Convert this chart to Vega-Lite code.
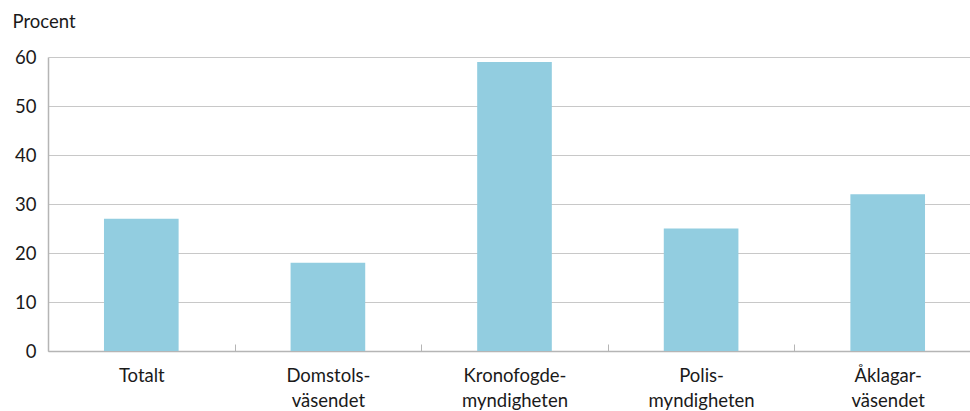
{
  "$schema": "https://vega.github.io/schema/vega-lite/v6.json",
  "autosize": "none",
  "width": 933,
  "height": 294,
  "padding": {"left": 48, "top": 57, "right": 0, "bottom": 60},
  "data": {
    "values": [
      {"kategori": "Totalt", "procent": 27},
      {"kategori": "Domstols-väsendet", "procent": 18},
      {"kategori": "Kronofogde-myndigheten", "procent": 59},
      {"kategori": "Polis-myndigheten", "procent": 25},
      {"kategori": "Åklagar-väsendet", "procent": 32}
    ]
  },
  "config": {
    "view": {"stroke": null},
    "font": "Lato",
    "axis": {"labelFont": "Lato", "titleFont": "Lato", "labelColor": "#1a1a1a", "titleColor": "#1a1a1a"}
  },
  "mark": {"type": "bar", "color": "#92cde0", "width": {"band": 0.4}},
  "encoding": {
    "x": {
      "field": "kategori",
      "type": "nominal",
      "sort": null,
      "scale": {"paddingInner": 0, "paddingOuter": 0},
      "axis": {
        "title": null,
        "labelAngle": 0,
        "labelFontSize": 18.5,
        "labelPadding": 22,
        "labelLineHeight": 25,
        "labelExpr": "indexof(datum.label,'-')>0 ? [slice(datum.label,0,indexof(datum.label,'-')+1), slice(datum.label,indexof(datum.label,'-')+1)] : datum.label",
        "tickBand": "extent",
        "tickSize": -7,
        "tickColor": "#b5b5b5",
        "domainColor": "#b5b5b5",
        "domainWidth": 1.5,
        "grid": false
      }
    },
    "y": {
      "field": "procent",
      "type": "quantitative",
      "scale": {"domain": [0, 60]},
      "axis": {
        "title": "Procent",
        "titleAngle": 0,
        "titleAlign": "left",
        "titleBaseline": "middle",
        "titleX": -36,
        "titleY": -36,
        "titleFontSize": 18.5,
        "titleFontWeight": "normal",
        "values": [0, 10, 20, 30, 40, 50, 60],
        "labelFontSize": 18.5,
        "labelPadding": 12,
        "ticks": false,
        "domainColor": "#b5b5b5",
        "domainWidth": 1.5,
        "gridColor": "#c8c8c8",
        "gridWidth": 1
      }
    }
  }
}
